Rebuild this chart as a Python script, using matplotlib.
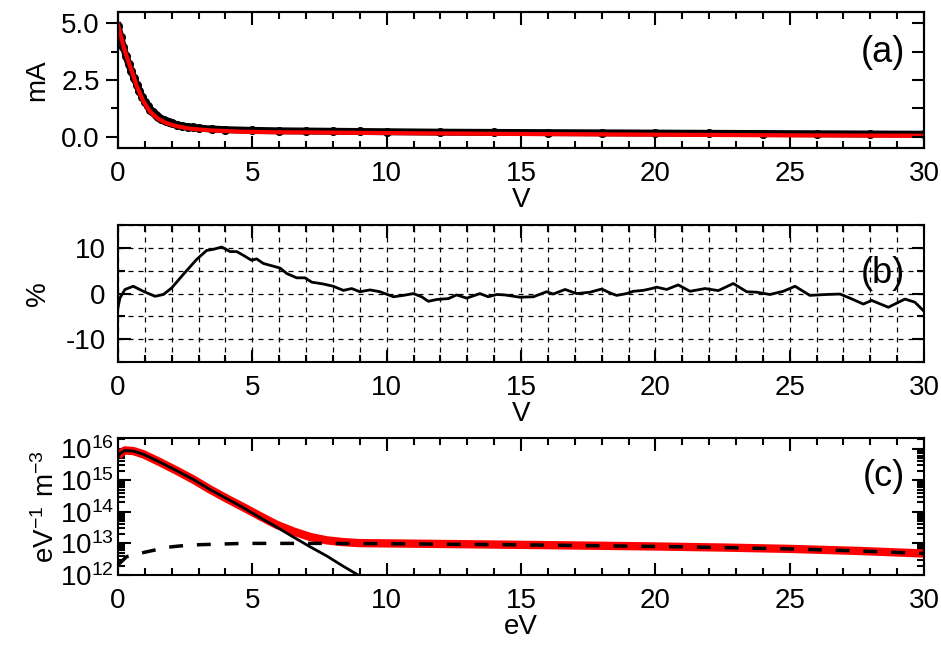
# Probe current, deviation and EEDF panels
import matplotlib
matplotlib.use('Agg')
import matplotlib.pyplot as plt
from matplotlib.ticker import MultipleLocator, LogLocator, NullFormatter

plt.rcParams['font.family'] = ['Liberation Sans Narrow', 'Liberation Sans', 'DejaVu Sans']
plt.rcParams['mathtext.fontset'] = 'custom'
plt.rcParams['mathtext.rm'] = 'Liberation Sans Narrow'
plt.rcParams['mathtext.it'] = 'Liberation Sans Narrow'
plt.rcParams['font.size'] = 20
plt.rcParams['axes.linewidth'] = 1.5
plt.rcParams['axes.unicode_minus'] = False

# (a) probe current, measured points and fit
v_meas = [0, 0.1, 0.2, 0.3, 0.4, 0.5, 0.6, 0.7, 0.8, 0.9, 1.0, 1.1, 1.2, 1.3, 1.4,
          1.5, 1.6, 1.7, 1.8, 1.9, 2.0, 2.2, 2.4, 2.6, 2.8, 3.0, 3.5, 4, 5, 6, 7,
          8, 9, 10, 12, 14, 16, 18, 20, 22, 24, 26, 28, 30]
i_meas = [4.9, 4.4, 3.95, 3.55, 3.2, 2.88, 2.58, 2.3, 2.02, 1.76, 1.55, 1.36, 1.2,
          1.07, 0.96, 0.87, 0.8, 0.74, 0.69, 0.64, 0.6, 0.53, 0.48, 0.44, 0.41,
          0.38, 0.34, 0.31, 0.28, 0.26, 0.25, 0.24, 0.23, 0.22, 0.2, 0.19, 0.18,
          0.17, 0.16, 0.15, 0.14, 0.13, 0.12, 0.11]
v_fit = [0, 0.1, 0.2, 0.3, 0.45, 0.6, 0.7, 0.85, 0.95, 1.1, 1.2, 1.4, 1.55, 1.75,
         1.9, 2.2, 2.5, 2.8, 3.4, 4.0, 4.6, 5.5, 7, 10, 15, 20, 25, 30]
i_fit = [4.95, 4.47, 4.0, 3.62, 3.1, 2.6, 2.22, 1.82, 1.55, 1.27, 1.1, 0.88, 0.75,
         0.63, 0.56, 0.46, 0.39, 0.34, 0.28, 0.25, 0.22, 0.2, 0.19, 0.16, 0.12,
         0.09, 0.06, 0.04]

# (b) relative deviation in %
v_dev = [0, 0.07, 0.26, 0.57, 0.94, 1.38, 1.69, 2.0, 2.43, 2.93, 3.3, 3.55, 3.86,
         4.17, 4.42, 4.66, 4.97, 5.16, 5.41, 5.78, 6.03, 6.28, 6.65, 6.96, 7.21,
         7.64, 8.01, 8.39, 8.7, 9.0, 9.38, 9.75, 10.25, 10.62, 10.99, 11.3, 11.55,
         11.86, 12.3, 12.6, 12.98, 13.47, 13.78, 14.1, 14.4, 14.96, 15.46, 15.95,
         16.2, 16.64, 17.07, 17.57, 18.0, 18.31, 18.56, 18.93, 19.18, 19.55, 19.86,
         20.05, 20.42, 20.85, 21.29, 21.85, 22.34, 22.9, 23.4, 23.77, 24.26, 24.76,
         25.2, 25.75, 26.37, 26.87, 27.24, 27.74, 28.05, 28.67, 29.29, 29.66, 30.0]
p_dev = [-3.1, -1.0, 0.9, 1.6, 0.5, -0.6, -0.2, 1.25, 4.2, 7.5, 9.45, 9.7, 10.2,
         9.2, 9.2, 8.4, 7.3, 7.6, 6.6, 6.0, 5.6, 4.4, 3.45, 3.45, 2.5, 2.1, 1.6,
         0.7, 1.1, 0.4, 0.8, 0.4, -0.7, -0.4, 0.0, -0.7, -1.7, -1.3, -1.1, -0.3,
         -1.0, 0.0, -0.7, -0.2, -0.3, -0.8, -0.7, 0.4, -0.1, 0.9, 0.0, 0.3, 1.0,
         0.15, -0.4, 0.0, 0.5, 0.7, 1.1, 1.4, 0.9, 1.9, 0.5, 1.1, 0.65, 2.2, 0.4,
         0.3, -0.2, 0.5, 1.6, -0.4, -0.2, -0.1, -1.0, -2.3, -1.5, -3.0, -1.2,
         -1.9, -3.9]

# (c) EEDF: total fit, cold group, hot group
e_tot = [0, 0.07, 0.26, 0.57, 0.94, 1.56, 2.18, 2.8, 3.42, 4.05, 4.66, 5.28, 5.9,
         6.52, 7.15, 7.77, 8.38, 9.0, 10, 12.5, 15, 17.5, 20, 22.5, 25, 27.5, 30]
n_tot = [5.6e15, 6.9e15, 8.7e15, 8.3e15, 6.6e15, 3.7e15, 2.0e15, 1.05e15, 5.1e14,
         2.6e14, 1.4e14, 7.3e13, 3.9e13, 2.4e13, 1.6e13, 1.25e13, 1.1e13, 1.02e13,
         1.0e13, 9.5e12, 9.0e12, 8.5e12, 8.0e12, 7.4e12, 6.7e12, 5.8e12, 4.8e12]
e_cold = [0, 0.07, 0.26, 0.57, 0.94, 1.56, 2.18, 2.8, 3.42, 4.05, 4.66, 5.28, 5.9,
          6.52, 7.15, 7.77, 8.38, 8.94, 9.2]
n_cold = [5.6e15, 6.9e15, 8.7e15, 8.3e15, 6.6e15, 3.7e15, 2.0e15, 1.05e15, 5.1e14,
          2.6e14, 1.35e14, 6.6e13, 3.3e13, 1.6e13, 7.8e12, 4.0e12, 1.9e12, 1.0e12,
          7.6e11]
e_hot = [0, 0.32, 0.88, 1.38, 1.75, 2.18, 2.68, 3.42, 4.66, 6, 8, 10, 12.5, 15,
         17.5, 20, 22.5, 25, 27.5, 30]
n_hot = [2.1e12, 3.8e12, 5.0e12, 6.2e12, 7.4e12, 8.1e12, 8.9e12, 9.3e12, 1.0e13,
         1.0e13, 1.0e13, 9.8e12, 9.4e12, 9.0e12, 8.5e12, 8.0e12, 7.4e12, 6.7e12,
         5.8e12, 4.8e12]

fig = plt.figure(figsize=(9.41, 6.55), dpi=100)
L, W = 0.1254, 0.8566


def style_x(ax, label):
    ax.set_xlim(0, 30)
    ax.xaxis.set_major_locator(MultipleLocator(5))
    ax.xaxis.set_minor_locator(MultipleLocator(1))
    ax.tick_params(axis='x', which='both', direction='in', top=True, bottom=True,
                   width=1.5, pad=9)
    ax.tick_params(axis='x', which='major', length=9)
    ax.tick_params(axis='x', which='minor', length=5)
    ax.set_xlabel(label, labelpad=0)


# panel (a)
ax = fig.add_axes([L, 0.774, W, 0.2076])
ax.plot(v_meas, i_meas, 'o-', color='k', ms=5.5, lw=5)
ax.plot(v_fit, i_fit, color='red', lw=3)
ax.set_ylim(-0.5, 5.5)
ax.yaxis.set_major_locator(MultipleLocator(2.5))
ax.yaxis.set_minor_locator(MultipleLocator(1.25))
ax.yaxis.set_major_formatter(plt.FormatStrFormatter('%.1f'))
ax.tick_params(axis='y', which='both', direction='out', right=False, width=1.5, pad=4)
ax.tick_params(axis='y', which='major', length=9)
ax.tick_params(axis='y', which='minor', length=5)
style_x(ax, 'V')
ax.set_ylabel('mA', labelpad=8)
ax.text(0.976, 0.7, '(a)', transform=ax.transAxes, ha='right', va='center', fontsize=26)
axr = ax.twinx()
axr.set_ylim(-0.5, 5.5)
axr.yaxis.set_major_locator(MultipleLocator(1.25))
axr.tick_params(axis='y', direction='in', length=9, width=1.5, labelright=False)

# panel (b)
bx = fig.add_axes([L, 0.4473, W, 0.209])
bx.plot(v_dev, p_dev, color='k', lw=2)
bx.set_ylim(-15, 15)
bx.yaxis.set_major_locator(MultipleLocator(10))
bx.yaxis.set_minor_locator(MultipleLocator(5))
bx.tick_params(axis='y', which='both', direction='in', right=True, width=1.5, pad=9)
bx.tick_params(axis='y', which='major', length=9)
bx.tick_params(axis='y', which='minor', length=5)
style_x(bx, 'V')
bx.grid(True, which='both', color='k', ls=(0, (4, 4)), lw=0.9)
bx.set_axisbelow(True)
bx.set_ylabel('%', labelpad=10)
bx.text(0.976, 0.65, '(b)', transform=bx.transAxes, ha='right', va='center', fontsize=26)

# panel (c)
cx = fig.add_axes([L, 0.1221, W, 0.2087])
cx.plot(e_tot, n_tot, color='red', lw=6, solid_capstyle='butt')
cx.plot(e_cold, n_cold, color='k', lw=2)
cx.plot(e_hot, n_hot, color='k', lw=2.5, ls=(0, (4, 4)))
cx.set_yscale('log')
cx.set_ylim(1e12, 2.1e16)
cx.yaxis.set_minor_locator(LogLocator(base=10, subs=range(2, 10), numticks=10))
cx.yaxis.set_minor_formatter(NullFormatter())
cx.set_yticks([1e12, 1e13, 1e14, 1e15, 1e16])
cx.set_yticklabels([r'$\mathregular{10^{12}}$', r'$\mathregular{10^{13}}$',
                    r'$\mathregular{10^{14}}$', r'$\mathregular{10^{15}}$',
                    r'$\mathregular{10^{16}}$'])
cx.tick_params(axis='y', which='both', direction='in', right=True, width=1.5, pad=3)
cx.tick_params(axis='y', which='major', length=9)
cx.tick_params(axis='y', which='minor', length=5)
style_x(cx, 'eV')
cx.set_ylabel(r'$\mathregular{eV^{-1}\ m^{-3}}$', labelpad=0)
cx.text(0.976, 0.72, '(c)', transform=cx.transAxes, ha='right', va='center', fontsize=26)

plt.savefig('out.png', dpi=100)
